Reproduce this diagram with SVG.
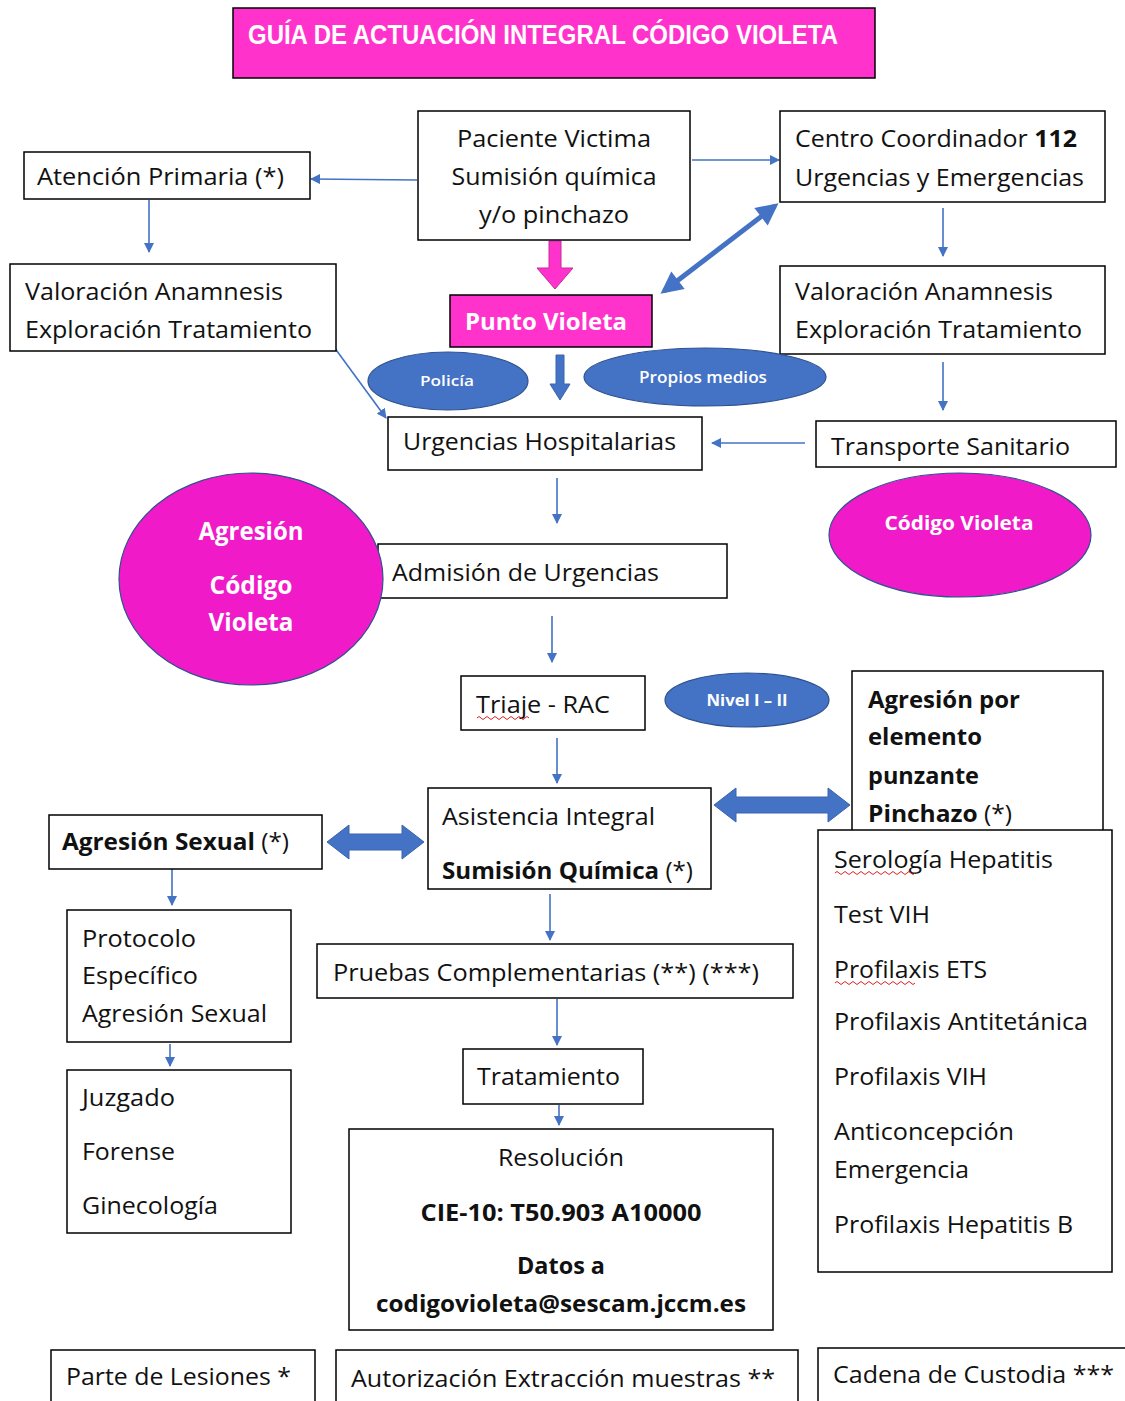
<svg xmlns="http://www.w3.org/2000/svg" width="1125" height="1401" viewBox="0 0 1125 1401">
<style>
.box{fill:#fff;stroke:#000;stroke-width:1.5}
.pink{fill:#FF33CC;stroke:#000;stroke-width:1.5}
.t{font-family:"Open Sans","Noto Sans","DejaVu Sans",sans-serif;font-size:23px;fill:#111}
.b{font-weight:bold}
.w{fill:#fff;font-weight:bold}
.el{fill:#fff;font-weight:600}
.bell{fill:#4472C4;stroke:#2F528F;stroke-width:1.2}
.pell{fill:#F01AC8;stroke:#2F528F;stroke-width:1.2}
.ln{stroke:#4472C4;stroke-width:1.6;fill:none}
.blk{fill:#4472C4;stroke:#3A64B0;stroke-width:1}
.sq{stroke:#E02020;stroke-width:1;fill:none}
</style>
<defs>
<marker id="ah" viewBox="0 0 10 10" refX="9" refY="5" markerWidth="10" markerHeight="10" markerUnits="userSpaceOnUse" orient="auto-start-reverse">
<path d="M0,0 L10,5 L0,10 z" fill="#4472C4"/>
</marker>
<marker id="bh" viewBox="0 0 10 10" refX="8" refY="5" markerWidth="24" markerHeight="22" markerUnits="userSpaceOnUse" orient="auto-start-reverse">
<path d="M0,0 L10,5 L0,10 z" fill="#4472C4"/>
</marker>
</defs>
<rect width="1125" height="1401" fill="#fff"/>

<g id="connectors">
<line class="ln" x1="417" y1="180" x2="311" y2="179" marker-end="url(#ah)"/>
<line class="ln" x1="692" y1="160" x2="779" y2="160" marker-end="url(#ah)"/>
<line class="ln" x1="149" y1="200" x2="149" y2="252" marker-end="url(#ah)"/>
<line class="ln" x1="943" y1="208" x2="943" y2="256" marker-end="url(#ah)"/>
<line class="ln" x1="943" y1="362" x2="943" y2="410" marker-end="url(#ah)"/>
<line class="ln" x1="334" y1="347" x2="386" y2="418" marker-end="url(#ah)"/>
<line class="ln" x1="805" y1="443" x2="712" y2="443" marker-end="url(#ah)"/>
<line class="ln" x1="557" y1="478" x2="557" y2="523" marker-end="url(#ah)"/>
<line class="ln" x1="552" y1="616" x2="552" y2="662" marker-end="url(#ah)"/>
<line class="ln" x1="557" y1="738" x2="557" y2="783" marker-end="url(#ah)"/>
<line class="ln" x1="172" y1="869" x2="172" y2="905" marker-end="url(#ah)"/>
<line class="ln" x1="170" y1="1044" x2="170" y2="1066" marker-end="url(#ah)"/>
<line class="ln" x1="550" y1="894" x2="550" y2="940" marker-end="url(#ah)"/>
<line class="ln" x1="557" y1="999" x2="557" y2="1045" marker-end="url(#ah)"/>
<line class="ln" x1="559" y1="1105" x2="559" y2="1125" marker-end="url(#ah)"/>
<line x1="664" y1="291" x2="775" y2="206" stroke="#4472C4" stroke-width="5" marker-start="url(#bh)" marker-end="url(#bh)"/>
<polygon points="549,241 561,241 561,268 573,268 555,289 537,268 549,268" fill="#FF33CC" stroke="#C8289F" stroke-width="1"/>
<polygon class="blk" points="556,355 564,355 564,384 570,384 560,400 550,384 556,384"/>
<polygon class="blk" points="327,842 349,825 349,834 402,834 402,825 424,842 402,859 402,850 349,850 349,859"/>
<polygon class="blk" points="714,805 736,788 736,797 828,797 828,788 850,805 828,822 828,813 736,813 736,822"/>
</g>

<g id="title">
<rect class="pink" x="233" y="8" width="642" height="70"/>
<text x="248" y="44" font-family="'Liberation Sans',Arial,sans-serif" font-size="27" font-weight="bold" fill="#fff" textLength="590" lengthAdjust="spacingAndGlyphs">GUÍA DE ACTUACIÓN INTEGRAL CÓDIGO VIOLETA</text>
</g>

<g id="paciente">
<rect class="box" x="418" y="111" width="272" height="129"/>
<text class="t" x="554" y="147" text-anchor="middle" textLength="194" lengthAdjust="spacingAndGlyphs">Paciente Victima</text>
<text class="t" x="554" y="185" text-anchor="middle" textLength="205" lengthAdjust="spacingAndGlyphs">Sumisión química</text>
<text class="t" x="554" y="223" text-anchor="middle" textLength="150" lengthAdjust="spacingAndGlyphs">y/o pinchazo</text>
</g>

<g id="centro">
<rect class="box" x="780" y="111" width="325" height="91"/>
<text class="t" x="795" y="147" textLength="282" lengthAdjust="spacingAndGlyphs">Centro Coordinador <tspan class="b">112</tspan></text>
<text class="t" x="795" y="186" textLength="289" lengthAdjust="spacingAndGlyphs">Urgencias y Emergencias</text>
</g>

<g id="atencion">
<rect class="box" x="24" y="152" width="286" height="47"/>
<text class="t" x="37" y="185" textLength="247" lengthAdjust="spacingAndGlyphs">Atención Primaria (*)</text>
</g>

<g id="valoracion-izq">
<rect class="box" x="10" y="264" width="326" height="87"/>
<text class="t" x="25" y="300" textLength="258" lengthAdjust="spacingAndGlyphs">Valoración Anamnesis</text>
<text class="t" x="25" y="338" textLength="287" lengthAdjust="spacingAndGlyphs">Exploración Tratamiento</text>
</g>

<g id="valoracion-der">
<rect class="box" x="780" y="266" width="325" height="88"/>
<text class="t" x="795" y="300" textLength="258" lengthAdjust="spacingAndGlyphs">Valoración Anamnesis</text>
<text class="t" x="795" y="338" textLength="287" lengthAdjust="spacingAndGlyphs">Exploración Tratamiento</text>
</g>

<g id="punto-violeta">
<rect class="pink" x="450" y="295" width="202" height="52"/>
<text class="t w" x="465" y="330" style="font-size:24px" textLength="162" lengthAdjust="spacingAndGlyphs">Punto Violeta</text>
</g>

<g id="policia">
<ellipse class="bell" cx="448" cy="381" rx="80" ry="29"/>
<text class="t el" x="447" y="386" style="font-size:15px;fill:#fff" text-anchor="middle" textLength="54" lengthAdjust="spacingAndGlyphs">Policía</text>
</g>

<g id="propios">
<ellipse class="bell" cx="705" cy="377" rx="121" ry="29"/>
<text class="t el" x="703" y="383" style="font-size:16px;fill:#fff" text-anchor="middle" textLength="128" lengthAdjust="spacingAndGlyphs">Propios medios</text>
</g>

<g id="urgencias">
<rect class="box" x="388" y="417" width="314" height="53"/>
<text class="t" x="403" y="450" textLength="273" lengthAdjust="spacingAndGlyphs">Urgencias Hospitalarias</text>
</g>

<g id="transporte">
<rect class="box" x="816" y="421" width="300" height="46"/>
<text class="t" x="831" y="455" textLength="239" lengthAdjust="spacingAndGlyphs">Transporte Sanitario</text>
</g>

<g id="codigo-der">
<ellipse class="pell" cx="960" cy="535" rx="131" ry="62"/>
<text class="t w" x="959" y="530" style="font-size:19px" text-anchor="middle" textLength="149" lengthAdjust="spacingAndGlyphs">Código Violeta</text>
</g>

<g id="admision">
<rect class="box" x="378" y="544" width="349" height="54"/>
<text class="t" x="392" y="581" textLength="267" lengthAdjust="spacingAndGlyphs">Admisión de Urgencias</text>
</g>

<g id="agresion-cv">
<ellipse class="pell" cx="251" cy="579" rx="132" ry="106"/>
<text class="t w" x="251" y="540" style="font-size:25px" text-anchor="middle" textLength="105" lengthAdjust="spacingAndGlyphs">Agresión</text>
<text class="t w" x="251" y="594" style="font-size:25px" text-anchor="middle" textLength="83" lengthAdjust="spacingAndGlyphs">Código</text>
<text class="t w" x="251" y="631" style="font-size:25px" text-anchor="middle" textLength="85" lengthAdjust="spacingAndGlyphs">Violeta</text>
</g>

<g id="triaje">
<rect class="box" x="461" y="676" width="184" height="54"/>
<text class="t" x="476" y="713" textLength="134" lengthAdjust="spacingAndGlyphs">Triaje - RAC</text>
<path class="sq" d="M477,718 q2,-3 4,0 t4,0 t4,0 t4,0 t4,0 t4,0 t4,0 t4,0 t4,0 t4,0 t4,0 t4,0 t4,0"/>
</g>

<g id="nivel">
<ellipse class="bell" cx="747" cy="700" rx="82" ry="27"/>
<text class="t el" x="747" y="706" style="font-size:16px;fill:#fff;font-weight:bold" text-anchor="middle" textLength="81" lengthAdjust="spacingAndGlyphs">Nivel I – II</text>
</g>

<g id="pinchazo">
<rect class="box" x="852" y="671" width="251" height="165"/>
<text class="t b" x="868" y="708" textLength="152" lengthAdjust="spacingAndGlyphs">Agresión por</text>
<text class="t b" x="868" y="745" textLength="114" lengthAdjust="spacingAndGlyphs">elemento</text>
<text class="t b" x="868" y="784" textLength="111" lengthAdjust="spacingAndGlyphs">punzante</text>
<text class="t b" x="868" y="822" textLength="144" lengthAdjust="spacingAndGlyphs">Pinchazo <tspan font-weight="normal">(*)</tspan></text>
</g>

<g id="asistencia">
<rect class="box" x="428" y="788" width="283" height="101"/>
<text class="t" x="442" y="825" textLength="213" lengthAdjust="spacingAndGlyphs">Asistencia Integral</text>
<text class="t" x="442" y="879" textLength="251" lengthAdjust="spacingAndGlyphs"><tspan class="b">Sumisión Química</tspan> (*)</text>
</g>

<g id="agresion-sexual">
<rect class="box" x="49" y="815" width="273" height="54"/>
<text class="t" x="62" y="850" textLength="227" lengthAdjust="spacingAndGlyphs"><tspan class="b">Agresión Sexual</tspan> (*)</text>
</g>

<g id="protocolo">
<rect class="box" x="67" y="910" width="224" height="132"/>
<text class="t" x="82" y="947" textLength="114" lengthAdjust="spacingAndGlyphs">Protocolo</text>
<text class="t" x="82" y="984" textLength="116" lengthAdjust="spacingAndGlyphs">Específico</text>
<text class="t" x="82" y="1022" textLength="185" lengthAdjust="spacingAndGlyphs">Agresión Sexual</text>
</g>

<g id="juzgado">
<rect class="box" x="67" y="1070" width="224" height="163"/>
<text class="t" x="82" y="1106" textLength="93" lengthAdjust="spacingAndGlyphs">Juzgado</text>
<text class="t" x="82" y="1160" textLength="93" lengthAdjust="spacingAndGlyphs">Forense</text>
<text class="t" x="82" y="1214" textLength="136" lengthAdjust="spacingAndGlyphs">Ginecología</text>
</g>

<g id="serologia">
<rect class="box" x="818" y="830" width="294" height="442"/>
<text class="t" x="834" y="868" textLength="219" lengthAdjust="spacingAndGlyphs">Serología Hepatitis</text>
<path class="sq" d="M835,873 q2,-3 4,0 t4,0 t4,0 t4,0 t4,0 t4,0 t4,0 t4,0 t4,0 t4,0 t4,0 t4,0 t4,0 t4,0 t4,0 t4,0 t4,0 t4,0 t4,0 t4,0"/>
<text class="t" x="834" y="923" textLength="96" lengthAdjust="spacingAndGlyphs">Test VIH</text>
<text class="t" x="834" y="978" textLength="153" lengthAdjust="spacingAndGlyphs">Profilaxis ETS</text>
<path class="sq" d="M835,983 q2,-3 4,0 t4,0 t4,0 t4,0 t4,0 t4,0 t4,0 t4,0 t4,0 t4,0 t4,0 t4,0 t4,0 t4,0 t4,0 t4,0 t4,0 t4,0 t4,0 t4,0"/>
<text class="t" x="834" y="1030" textLength="254" lengthAdjust="spacingAndGlyphs">Profilaxis Antitetánica</text>
<text class="t" x="834" y="1085" textLength="153" lengthAdjust="spacingAndGlyphs">Profilaxis VIH</text>
<text class="t" x="834" y="1140" textLength="180" lengthAdjust="spacingAndGlyphs">Anticoncepción</text>
<text class="t" x="834" y="1178" textLength="135" lengthAdjust="spacingAndGlyphs">Emergencia</text>
<text class="t" x="834" y="1233" textLength="239" lengthAdjust="spacingAndGlyphs">Profilaxis Hepatitis B</text>
</g>

<g id="pruebas">
<rect class="box" x="317" y="944" width="476" height="54"/>
<text class="t" x="333" y="981" textLength="426" lengthAdjust="spacingAndGlyphs">Pruebas Complementarias (**) (***)</text>
</g>

<g id="tratamiento">
<rect class="box" x="463" y="1049" width="180" height="55"/>
<text class="t" x="477" y="1085" textLength="143" lengthAdjust="spacingAndGlyphs">Tratamiento</text>
</g>

<g id="resolucion">
<rect class="box" x="349" y="1129" width="424" height="201"/>
<text class="t" x="561" y="1166" text-anchor="middle" textLength="126" lengthAdjust="spacingAndGlyphs">Resolución</text>
<text class="t b" x="561" y="1221" text-anchor="middle" textLength="281" lengthAdjust="spacingAndGlyphs">CIE-10: T50.903 A10000</text>
<text class="t b" x="561" y="1274" text-anchor="middle" textLength="88" lengthAdjust="spacingAndGlyphs">Datos a</text>
<text class="t b" x="561" y="1312" text-anchor="middle" textLength="370" lengthAdjust="spacingAndGlyphs">codigovioleta@sescam.jccm.es</text>
</g>

<g id="parte">
<rect class="box" x="51" y="1350" width="264" height="60"/>
<text class="t" x="66" y="1385" textLength="225" lengthAdjust="spacingAndGlyphs">Parte de Lesiones *</text>
</g>

<g id="autorizacion">
<rect class="box" x="336" y="1350" width="462" height="60"/>
<text class="t" x="351" y="1387" textLength="424" lengthAdjust="spacingAndGlyphs">Autorización Extracción muestras **</text>
</g>

<g id="cadena">
<rect class="box" x="818" y="1348" width="320" height="60"/>
<text class="t" x="833" y="1383" textLength="281" lengthAdjust="spacingAndGlyphs">Cadena de Custodia ***</text>
</g>
</svg>
